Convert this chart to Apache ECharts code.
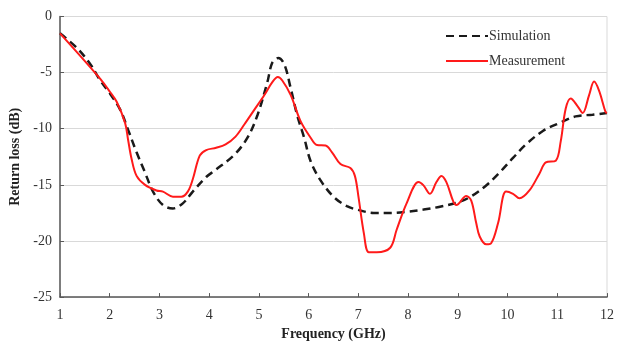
<!DOCTYPE html>
<html>
<head>
<meta charset="utf-8">
<script src="https://cdn.jsdelivr.net/npm/echarts@6/dist/echarts.min.js"></script>
<style>
  html, body { margin: 0; padding: 0; background: #ffffff; }
  #chart { width: 617px; height: 346px; }
</style>
</head>
<body>
<div id="chart"></div>
<script>
// Simulated return loss (frequency in GHz, loss in dB)
const simFreq = [1.0, 1.34, 1.61, 1.81, 2.01, 2.21, 2.37, 2.54, 2.71, 2.87, 3.07, 3.27, 3.47, 3.67, 3.94, 4.12,
  4.51, 4.77, 4.97, 5.17, 5.27, 5.39, 5.51, 5.64, 5.77, 5.91, 6.04, 6.24, 6.51, 6.77, 6.97, 7.31, 7.64, 7.97,
  8.31, 8.64, 8.97, 9.24, 9.57, 9.84, 10.11, 10.37, 10.71, 11.04, 11.37, 11.71, 12.0];
const simLoss = [-1.5, -2.8, -4.25, -5.7, -6.9, -8.3, -10.1, -12.1, -13.9, -15.6, -16.8, -17.1, -16.65, -15.6, -14.3, -13.7,
  -12.3, -10.8, -8.8, -5.85, -4.1, -3.7, -4.25, -6.4, -8.8, -10.8, -12.9, -14.6, -16.1, -16.9, -17.2, -17.5, -17.5, -17.4,
  -17.2, -16.95, -16.6, -16.1, -15.05, -13.9, -12.6, -11.4, -10.2, -9.5, -8.9, -8.75, -8.6];

// Measured return loss
const measFreq = [1.0, 1.81, 2.01, 2.14, 2.31, 2.37, 2.44, 2.54, 2.71, 2.94, 3.07, 3.27, 3.44, 3.57, 3.67, 3.81, 3.94,
  4.14, 4.33, 4.53, 4.71, 4.91, 5.11, 5.27, 5.38, 5.47, 5.64, 5.84, 6.04, 6.17, 6.34, 6.47, 6.64, 6.84, 6.93, 7.0,
  7.11, 7.21, 7.37, 7.64, 7.77, 7.97, 8.21, 8.31, 8.44, 8.57, 8.67, 8.77, 8.91, 8.97, 9.17, 9.27, 9.37, 9.44, 9.57,
  9.67, 9.81, 9.97, 10.11, 10.24, 10.44, 10.64, 10.77, 10.97, 11.07, 11.17, 11.27, 11.41, 11.51, 11.64, 11.74, 11.84,
  11.97, 12.0];
const measLoss = [-1.5, -5.55, -6.75, -7.6, -9.5, -11.0, -12.7, -14.2, -15.0, -15.5, -15.6, -16.05, -16.05, -15.6, -14.5, -12.4, -11.9,
  -11.7, -11.4, -10.7, -9.6, -8.3, -7.0, -5.85, -5.4, -5.7, -7.0, -9.35, -10.8, -11.45, -11.5, -12.1, -13.15, -13.5, -14.2, -16.0,
  -19.3, -21.0, -21.0, -20.6, -19.0, -16.65, -14.75, -15.05, -15.8, -14.75, -14.2, -14.75, -16.5, -16.8, -16.0, -16.4, -18.4, -19.6, -20.3,
  -20.2, -18.4, -15.6, -15.8, -16.2, -15.5, -14.0, -13.0, -12.85, -11.1, -8.2, -7.3, -8.0, -8.6, -7.0, -5.8, -6.6,
  -8.5, -8.6];

// Axis ranges and tick steps
const xRange = [1, 12];
const xStep = 1;
const yRange = [-25, 0];
const yStep = 5;

const pairs = (xs, ys) => xs.map((x, i) => [x, ys[i]]);

const serif = '"Liberation Serif", "Times New Roman", serif';
const chart = echarts.init(document.getElementById('chart'), null, { renderer: 'canvas' });

chart.setOption({
  animation: false,
  backgroundColor: '#ffffff',
  grid: {
    left: 58, right: 8, top: 16.5, bottom: 44, containLabel: false,
    show: true, borderColor: '#d9d9d9', borderWidth: 1
  },
  legend: {
    orient: 'vertical',
    left: 440,
    top: 24,
    itemWidth: 42,
    itemHeight: 10,
    itemGap: 11,
    itemStyle: { opacity: 0 },
    textStyle: { fontFamily: serif, fontSize: 14, color: '#333333', padding: [0, 0, 0, -4] },
    data: ['Simulation', 'Measurement']
  },
  xAxis: {
    type: 'value',
    min: xRange[0],
    max: xRange[1],
    interval: xStep,
    name: 'Frequency (GHz)',
    nameLocation: 'middle',
    nameGap: 29,
    nameTextStyle: { fontFamily: serif, fontSize: 14, fontWeight: 'bold', color: '#222222' },
    axisLine: { show: true, onZero: false, lineStyle: { color: '#595959', width: 1.5 } },
    axisTick: { show: true, inside: true, length: 4, lineStyle: { color: '#595959' } },
    axisLabel: { fontFamily: serif, fontSize: 14, color: '#333333', margin: 11 },
    splitLine: { show: false }
  },
  yAxis: {
    type: 'value',
    min: yRange[0],
    max: yRange[1],
    interval: yStep,
    name: 'Return loss (dB)',
    nameLocation: 'middle',
    nameGap: 38,
    nameTextStyle: { fontFamily: serif, fontSize: 14, fontWeight: 'bold', color: '#222222' },
    axisLine: { show: true, onZero: false, lineStyle: { color: '#595959', width: 1.5 } },
    axisTick: { show: true, inside: true, length: 4, lineStyle: { color: '#595959' } },
    axisLabel: { fontFamily: serif, fontSize: 14, color: '#333333', margin: 8 },
    splitLine: { show: true, lineStyle: { color: '#d9d9d9', width: 1 } }
  },
  series: [
    {
      name: 'Simulation',
      type: 'line',
      data: pairs(simFreq, simLoss),
      smooth: 0.35,
      symbol: 'none',
      itemStyle: { color: '#1a1a1a' },
      lineStyle: { color: '#1a1a1a', width: 2.5, type: [8, 5] },
      z: 2
    },
    {
      name: 'Measurement',
      type: 'line',
      data: pairs(measFreq, measLoss),
      smooth: 0.35,
      symbol: 'none',
      itemStyle: { color: '#ff1a1a' },
      lineStyle: { color: '#ff1a1a', width: 2 },
      z: 3
    }
  ]
});
</script>
</body>
</html>
